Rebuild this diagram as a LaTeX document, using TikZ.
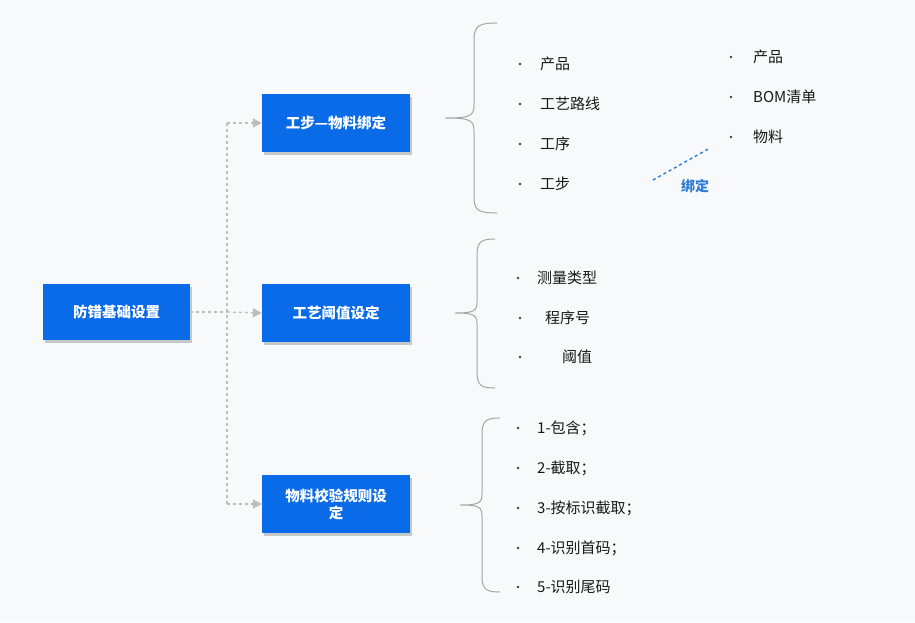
\documentclass[tikz,border=0pt]{standalone}
\usepackage{fontspec}
\setmainfont{Noto Sans CJK SC}
\usetikzlibrary{arrows.meta}
\definecolor{bx}{HTML}{0A6BE8}
\definecolor{bg}{HTML}{F8F9FA}
\definecolor{ln}{HTML}{BDBDBD}
\definecolor{bl}{HTML}{2F7BD9}
\tikzset{x=1pt,y=-1pt,
 box/.style={fill=bx,text=white,font=\fontsize{14.5}{17}\selectfont\bfseries,align=center,minimum width=148pt,minimum height=58pt,inner sep=2pt,
   preaction={fill=black!35,opacity=0.6,transform canvas={xshift=1.5pt,yshift=-2.5pt}}},
 con/.style={ln,dashed,line width=1.3pt,-{Triangle[length=9pt,width=9pt]}},
 it/.style={anchor=west,font=\fontsize{15}{17}\selectfont,text=black!90,inner sep=0},
 dot/.style={circle,fill=black!75,inner sep=0,minimum size=2.6pt},
 br/.style={draw=black!35,line width=1pt}}
\begin{document}
\begin{tikzpicture}
\fill[bg] (0,0) rectangle (915,622);
\useasboundingbox (0,0) rectangle (915,622);
\node[box,minimum width=147pt,minimum height=56pt] (root) at (116.5,312) {防错基础设置};
\node[box] (a) at (336,123) {工步—物料绑定};
\node[box] (b) at (336,313) {工艺阈值设定};
\node[box,text width=125pt] (c) at (336,504) {物料校验规则设\\定};
\coordinate (j) at (227,312);
\draw[ln,dashed,line width=1.3pt] (root.east) -- (j);
\coordinate (jt) at (227,123); \coordinate (jb) at (227,504);
\draw[ln,dashed,line width=1.3pt] (jt) -- (jb);
\draw[con] (jt) -- (a.west);
\draw[con] (j) -- (b.west);
\draw[con] (jb) -- (c.west);
% braces
\draw[br] (497,23) .. controls (480,23) and (474,25) .. (474,40) -- (474,105) .. controls (474,116) and (470,118) .. (445,118) .. controls (470,118) and (474,120) .. (474,131) -- (474,198) .. controls (474,211) and (480,213) .. (497,213);
\draw[br] (495,239) .. controls (482,239) and (477,241) .. (477,255) -- (477,302) .. controls (477,311) and (474,313) .. (455,313) .. controls (474,313) and (477,315) .. (477,324) -- (477,372) .. controls (477,386) and (482,388) .. (495,388);
\draw[br] (500,418) .. controls (487,418) and (482,420) .. (482,434) -- (482,494) .. controls (482,503) and (479,505) .. (460,505) .. controls (479,505) and (482,507) .. (482,516) -- (482,576) .. controls (482,590) and (487,592) .. (500,592);
% items
\foreach \y/\t [count=\i] in {64/产品,104/工艺路线,144/工序,184/工步}{
 \node[dot] (d1\i) at (520,\y) {}; \node[it] (t1\i) at (540,\y) {\t};}
\foreach \y/\t [count=\i] in {57/产品,97/BOM清单,137/物料}{
 \node[dot] (d2\i) at (731,\y) {}; \node[it] (t2\i) at (753,\y) {\t};}
\coordinate (bs) at (653,180); \coordinate (be) at (710,148);
\draw[bl,dashed,line width=1.4pt] (bs) -- (be);
\node[font=\fontsize{14}{16}\selectfont\bfseries,text=bl] (bd) at (695,186) {绑定};
\node[dot] (d31) at (518,278) {}; \node[it] (t31) at (537,278) {测量类型};
\node[dot] (d32) at (520,318) {}; \node[it] (t32) at (545,318) {程序号};
\node[dot] (d33) at (520,357) {}; \node[it] (t33) at (562,357) {阈值};
\foreach \y/\t [count=\i] in {428/1-包含；,468/2-截取；,508/3-按标识截取；,548/4-识别首码；,587/5-识别尾码}{
 \node[dot] (d4\i) at (518,\y) {}; \node[it] (t4\i) at (537,\y) {\t};}
\end{tikzpicture}
\end{document}
